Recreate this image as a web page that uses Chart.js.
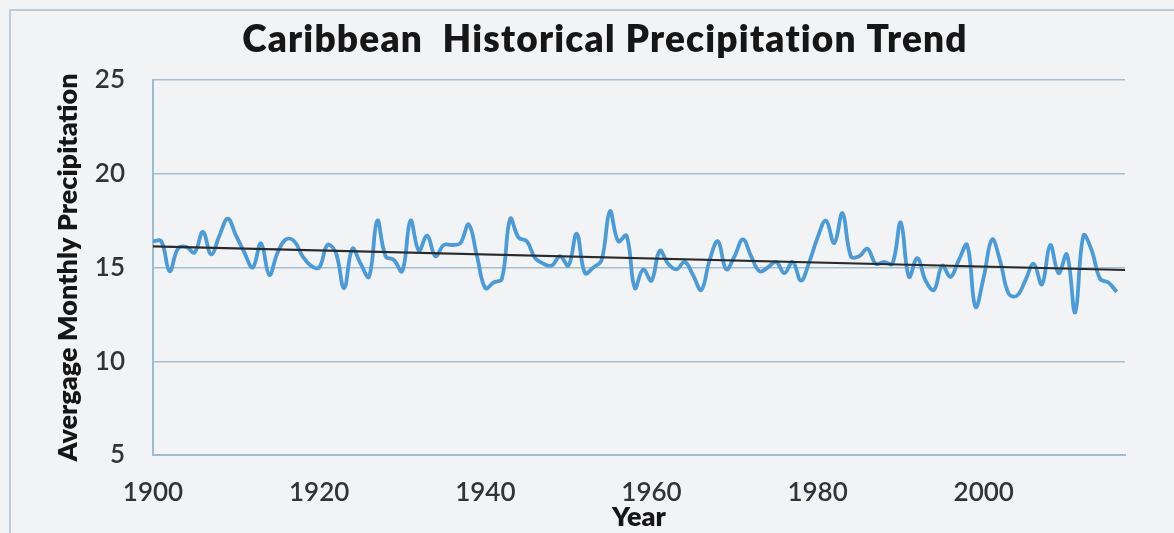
<!DOCTYPE html>
<html>
<head>
<meta charset="utf-8">
<script src="https://cdn.jsdelivr.net/npm/chart.js@4.4.1/dist/chart.umd.min.js"></script>
<style>
  body { margin: 0; background: #f2f3f5; }
  #wrap { position: relative; width: 1174px; height: 533px; }
  #frame { position: absolute; left: 9px; top: 9px; right: 0; bottom: 0;
           border-left: 2px solid #bccbd6; border-top: 2px solid #bccbd6; }
  canvas { position: absolute; left: 0; top: 0; }
</style>
</head>
<body>
<div id="wrap"><div id="frame"></div><canvas id="precip"></canvas></div>
<script>
const chartTitle = 'Caribbean  Historical Precipitation Trend';
const startYear = 1900;
// average monthly precipitation, one value per year 1900-2016
const precip = [
  16.4, 16.4, 14.8, 16.0, 16.1, 15.8, 16.9, 15.7, 16.7, 17.6,  // 1900s
  16.7, 15.8, 15.0, 16.3, 14.6, 15.8, 16.5, 16.4, 15.6, 15.1,  // 1910s
  15.0, 16.2, 15.8, 13.9, 16.0, 15.2, 14.5, 17.5, 15.6, 15.4,  // 1920s
  14.8, 17.5, 15.9, 16.7, 15.6, 16.2, 16.2, 16.3, 17.3, 15.6,  // 1930s
  13.9, 14.2, 14.4, 17.6, 16.6, 16.4, 15.5, 15.2, 15.1, 15.6,  // 1940s
  15.1, 16.8, 14.7, 15.0, 15.4, 18.0, 16.4, 16.7, 13.9, 14.9,  // 1950s
  14.3, 15.9, 15.2, 14.9, 15.3, 14.6, 13.8, 15.4, 16.4, 14.9,  // 1960s
  15.6, 16.5, 15.6, 14.8, 15.0, 15.3, 14.7, 15.3, 14.3, 15.3,  // 1970s
  16.6, 17.5, 16.3, 17.9, 15.6, 15.6, 16.0, 15.2, 15.3, 15.2,  // 1980s
  17.4, 14.5, 15.5, 14.3, 13.8, 15.1, 14.5, 15.4, 16.2, 12.9,  // 1990s
  14.5, 16.5, 15.3, 13.6, 13.5, 14.3, 15.2, 14.1, 16.2, 14.7,  // 2000s
  15.7, 12.6, 16.7, 15.9, 14.4, 14.2, 13.7                     // 2010s
];
const years = precip.map((v, i) => startYear + i);
const xTicks = [1900, 1920, 1940, 1960, 1980, 2000];
const yTicks = [5, 10, 15, 20, 25];
const trendYears = [1900, 2017];

// linear trend line (least squares), like Excel's trendline
const n = years.length;
const mx = years.reduce((a, b) => a + b, 0) / n;
const my = precip.reduce((a, b) => a + b, 0) / n;
let sxy = 0, sxx = 0;
years.forEach((x, i) => { sxy += (x - mx) * (precip[i] - my); sxx += (x - mx) * (x - mx); });
const slope = sxy / sxx;
const icpt = my - slope * mx;

Chart.defaults.font.family = 'Lato';

const topTitle = {
    id: 'topTitle',
    afterDraw(chart) {
        const c = chart.ctx;
        c.save();
        c.font = '800 37px Lato';
        c.letterSpacing = '1.2px';
        c.fillStyle = '#161616';
        c.textAlign = 'center';
        c.textBaseline = 'middle';
        c.fillText(chartTitle, 605, 40);
        c.restore();
    }
};

const ctx = document.getElementById('precip').getContext('2d');
const chart = new Chart(ctx, {
    type: 'line',
    data: {
        datasets: [{
            label: 'Trend',
            data: trendYears.map(x => ({ x: x, y: icpt + slope * x })),
            borderColor: '#2a2a2a',
            borderWidth: 2.2,
            pointRadius: 0,
            order: 0
        }, {
            label: 'Precipitation',
            data: years.map((x, i) => ({ x: x, y: precip[i] })),
            borderColor: '#4a9bd7',
            borderWidth: 3.8,
            tension: 0.4,
            pointRadius: 0,
            order: 1
        }]
    },
    options: {
        responsive: true,
        maintainAspectRatio: false,
        animation: false,
        layout: { padding: { left: 0, right: 49, top: 80, bottom: 0 } },
        plugins: {
            legend: { display: false },
            tooltip: { enabled: false }
        },
        scales: {
            x: {
                type: 'linear',
                min: 1900,
                max: 2017,
                afterBuildTicks: s => { s.ticks = xTicks.map(v => ({ value: v })); },
                afterFit: s => { s.height = 78; },
                grid: { display: false, drawTicks: false },
                border: { display: true, color: '#9dbccc', width: 2 },
                ticks: {
                    padding: 22,
                    color: '#333333',
                    font: { size: 26, weight: 600 },
                    maxRotation: 0,
                    callback: v => String(v)
                },
                title: {
                    display: true,
                    text: 'Year',
                    color: '#161616',
                    font: { size: 27, weight: 800 },
                    padding: { top: 0, bottom: 0 }
                }
            },
            y: {
                min: 5,
                max: 25,
                afterBuildTicks: s => { s.ticks = yTicks.map(v => ({ value: v })); },
                afterFit: s => { s.width = 153; },
                grid: { color: '#a3c0cf', lineWidth: 1.5, drawTicks: false },
                border: { display: true, color: '#9dbccc', width: 2 },
                ticks: {
                    padding: 28,
                    color: '#333333',
                    font: { size: 26, weight: 600 }
                },
                title: {
                    display: true,
                    text: 'Avergage Monthly Precipitation',
                    color: '#161616',
                    font: { size: 27, weight: 800 },
                    padding: { top: 52, bottom: 0 }
                }
            }
        }
    },
    plugins: [topTitle]
});
</script>
</body>
</html>
